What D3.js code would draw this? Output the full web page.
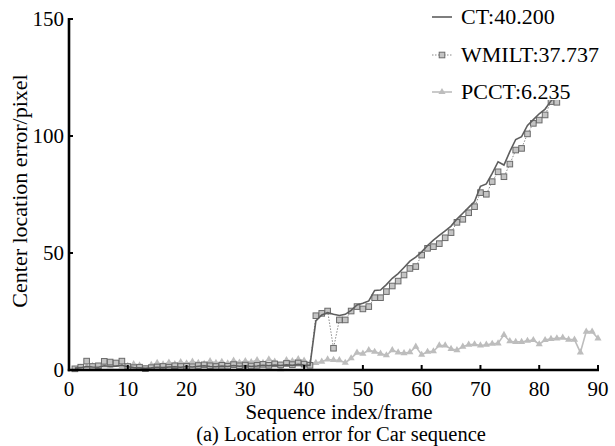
<!DOCTYPE html>
<html>
<head>
<meta charset="utf-8">
<script src="https://cdn.jsdelivr.net/npm/d3@7"></script>
<style>
  body { margin: 0; background: #fff; }
  svg { display: block; }
  svg text { font-family: "Liberation Serif", "Times New Roman", Times, "DejaVu Serif", serif; }
</style>
</head>
<body>
<svg id="chart" width="615" height="446"></svg>
<script>
// center location error per frame (pixels)
const ctErr = [0.8, 1.0, 1.5, 1.3, 1.2, 1.8, 1.5, 1.6, 2.0, 1.4, 1.0, 0.9, 0.7, 0.9, 1.2, 1.0, 1.3, 1.4, 1.2, 1.5,
  1.3, 1.6, 1.8, 1.5, 1.4, 1.7, 1.5, 1.9, 1.6, 1.8, 1.5, 1.7, 2.0, 1.8, 2.1, 1.9, 2.2, 2.0, 2.4, 2.1,
  2.0, 21.0, 23.5, 24.5, 23.8, 23.3, 23.8, 25.5, 27.8, 28.5, 29.5, 34.0, 34.2, 36.5, 39.2, 41.2, 43.8, 46.5, 48.2, 50.5,
  53.2, 55.5, 57.5, 59.5, 61.5, 64.5, 67.0, 69.5, 72.0, 78.5, 79.5, 84.0, 89.0, 87.6, 93.3, 98.5, 99.7, 104.5, 107.0, 109.5,
  111.5, 115.0, 117.5, 121.0, 124.0];
const wmiltErr = [0.5, 1.2, 3.8, 1.5, 1.8, 3.7, 3.4, 3.0, 3.8, 1.5, 1.0, 1.2, 0.6, 1.0, 1.3, 1.5, 1.2, 1.8, 1.5, 1.6,
  1.4, 1.9, 2.2, 1.8, 1.5, 2.0, 1.6, 2.3, 1.8, 2.1, 1.7, 2.0, 2.4, 2.0, 2.6, 2.2, 2.8, 2.3, 3.0, 2.5,
  2.0, 23.2, 24.2, 25.2, 9.3, 21.4, 21.4, 25.2, 27.1, 26.1, 27.1, 30.9, 30.9, 33.5, 35.9, 38.0, 40.6, 43.4, 44.2, 49.1,
  52.0, 52.7, 54.0, 56.5, 58.7, 63.1, 64.4, 67.2, 69.8, 75.8, 75.1, 80.5, 84.7, 82.6, 88.0, 94.0, 94.7, 100.9, 105.4, 106.8,
  109.0, 114.7, 114.4, 117.0, 120.0];
const pcctErr = [0.2, 1.0, 1.5, 1.8, 1.2, 2.0, 1.6, 2.2, 1.5, 1.8, 2.5, 2.0, 0.2, 2.2, 3.0, 2.4, 3.2, 2.5, 3.4, 2.8,
  3.6, 3.0, 2.6, 3.8, 3.0, 3.5, 2.8, 4.0, 3.2, 3.8, 3.4, 4.2, 3.0, 4.5, 3.6, 0.3, 4.2, 3.8, 4.6, 4.0,
  2.9, 3.0, 3.6, 4.5, 4.3, 4.2, 3.1, 5.0, 7.4, 7.0, 8.5, 7.8, 7.0, 6.3, 8.5, 7.5, 7.2, 7.6, 10.0, 6.5,
  7.8, 8.0, 10.5, 10.5, 9.0, 8.5, 10.0, 10.8, 11.0, 10.5, 10.8, 11.2, 11.4, 15.0, 12.3, 12.0, 12.0, 12.5, 12.8, 11.0,
  12.8, 13.3, 13.5, 13.8, 13.0, 13.0, 7.5, 16.4, 16.4, 13.5];

const legendLabels = ["CT:40.200", "WMILT:37.737", "PCCT:6.235"];
const xTicks = [0, 10, 20, 30, 40, 50, 60, 70, 80, 90];
const yTicks = [0, 50, 100, 150];

const svg = d3.select("#chart");
const plotLeft = 69, plotRight = 598, plotTop = 19, plotBottom = 370;

const x = d3.scaleLinear().domain([0, 90]).range([plotLeft, plotRight]);
const y = d3.scaleLinear().domain([0, 150]).range([plotBottom, plotTop]);

const toPts = (arr) => arr.map((v, i) => ({ f: i + 1, v }));
const line = d3.line().x((d) => x(d.f)).y((d) => y(d.v));

const plot = svg.append("g");

// PCCT: light grey line with triangles
const pcct = toPts(pcctErr);
plot.append("path").datum(pcct)
  .attr("d", line).attr("fill", "none")
  .attr("stroke", "#bdbdbd").attr("stroke-width", 1.6);
const tri = d3.symbol().type(d3.symbolTriangle).size(22);
plot.append("g").selectAll("path").data(pcct).enter().append("path")
  .attr("d", tri)
  .attr("transform", (d) => `translate(${x(d.f)},${y(d.v)})`)
  .attr("fill", "#bdbdbd");

// WMILT: dotted line with square markers
const wmilt = toPts(wmiltErr);
plot.append("path").datum(wmilt)
  .attr("d", line).attr("fill", "none")
  .attr("stroke", "#8a8a8a").attr("stroke-width", 1)
  .attr("stroke-dasharray", "1.5,1.5");
plot.append("g").selectAll("rect").data(wmilt).enter().append("rect")
  .attr("x", (d) => x(d.f) - 2.8).attr("y", (d) => y(d.v) - 2.8)
  .attr("width", 5.6).attr("height", 5.6)
  .attr("fill", "#c4c4c4").attr("stroke", "#6a6a6a").attr("stroke-width", 1);

// CT: solid dark grey line
plot.append("path").datum(toPts(ctErr))
  .attr("d", line).attr("fill", "none")
  .attr("stroke", "#5e5e5e").attr("stroke-width", 1.6);

// axes
const axes = svg.append("g").attr("stroke", "#000");
axes.append("line").attr("x1", plotLeft).attr("x2", plotLeft)
  .attr("y1", y(150) - 1).attr("y2", plotBottom + 1.2).attr("stroke-width", 2.6);
axes.append("line").attr("x1", plotLeft - 1.2).attr("x2", plotRight + 1)
  .attr("y1", plotBottom).attr("y2", plotBottom).attr("stroke-width", 2.6);
axes.selectAll(".yt").data(yTicks).enter().append("line")
  .attr("x1", plotLeft).attr("x2", plotLeft + 4)
  .attr("y1", (d) => y(d)).attr("y2", (d) => y(d)).attr("stroke-width", 2);
axes.selectAll(".xt").data(xTicks).enter().append("line")
  .attr("x1", (d) => x(d)).attr("x2", (d) => x(d))
  .attr("y1", plotBottom).attr("y2", plotBottom - 5).attr("stroke-width", 2);

svg.append("g").selectAll("text").data(yTicks).enter().append("text")
  .attr("x", plotLeft - 5).attr("y", (d) => y(d) + 7)
  .attr("text-anchor", "end").attr("font-size", 21).text((d) => d);
svg.append("g").selectAll("text").data(xTicks).enter().append("text")
  .attr("x", (d) => x(d)).attr("y", 396)
  .attr("text-anchor", "middle").attr("font-size", 21).text((d) => d);

svg.append("text").attr("x", 339).attr("y", 419)
  .attr("text-anchor", "middle").attr("font-size", 21).text("Sequence index/frame");
svg.append("text").attr("x", 341).attr("y", 441)
  .attr("text-anchor", "middle").attr("font-size", 20.5).text("(a) Location error for Car sequence");
svg.append("text")
  .attr("transform", "translate(27,191) rotate(-90)")
  .attr("text-anchor", "middle").attr("font-size", 22).text("Center location error/pixel");

// legend (white box hides the curves behind it)
const lg = svg.append("g");
lg.append("rect").attr("x", 426).attr("y", 0).attr("width", 189).attr("height", 100).attr("fill", "#fff");
const rowY = [17, 55, 92];
const lx1 = 432, lx2 = 452;
lg.append("line").attr("x1", lx1).attr("x2", lx2).attr("y1", rowY[0]).attr("y2", rowY[0])
  .attr("stroke", "#5e5e5e").attr("stroke-width", 1.6);
lg.append("line").attr("x1", lx1).attr("x2", lx2).attr("y1", rowY[1]).attr("y2", rowY[1])
  .attr("stroke", "#8a8a8a").attr("stroke-width", 1).attr("stroke-dasharray", "1.5,1.5");
lg.append("rect").attr("x", (lx1 + lx2) / 2 - 2.8).attr("y", rowY[1] - 2.8)
  .attr("width", 5.6).attr("height", 5.6)
  .attr("fill", "#c4c4c4").attr("stroke", "#6a6a6a");
lg.append("line").attr("x1", lx1).attr("x2", lx2).attr("y1", rowY[2]).attr("y2", rowY[2])
  .attr("stroke", "#bdbdbd").attr("stroke-width", 1.6);
lg.append("path").attr("d", tri)
  .attr("transform", `translate(${(lx1 + lx2) / 2},${rowY[2]})`).attr("fill", "#bdbdbd");
lg.selectAll("text").data(legendLabels).enter().append("text")
  .attr("x", 461).attr("y", (d, i) => rowY[i] + 7)
  .attr("font-size", 22).text((d) => d);
</script>
</body>
</html>
